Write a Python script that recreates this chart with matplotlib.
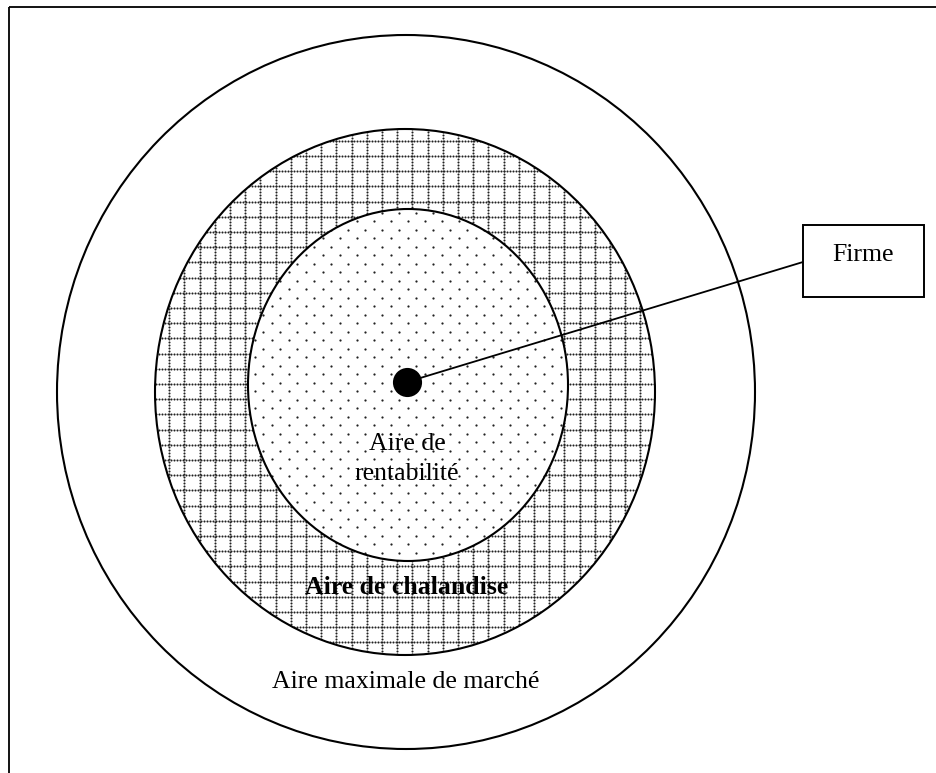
import numpy as np
import matplotlib
matplotlib.use("Agg")
import matplotlib.pyplot as plt
from matplotlib.patches import Ellipse, Rectangle

W, H = 937, 773

# Zones (outer -> inner): label, centre, half-width, half-height (pixel units)
zone_labels = ["Aire maximale de marché", "Aire de chalandise", "Aire de\nrentabilité"]
zone_cx = [406, 405, 408]
zone_cy = [392, 392, 385]
zone_rx = [349, 250, 160]
zone_ry = [357, 263, 176]
label_xy = [(406, 682), (407, 588), (407, 459)]
label_bold = [False, True, False]

firm_label = "Firme"
firm_pos = (407, 382)
box_xy = (803, 225)
box_wh = (121, 72)

plt.rcParams['font.family'] = ['Liberation Serif', 'DejaVu Serif']

fig = plt.figure(figsize=(W / 100, H / 100), dpi=100)
ax = fig.add_axes([0, 0, 1, 1])
ax.set_xlim(0, W)
ax.set_ylim(H, 0)
ax.axis('off')

# frame (left and top edges visible)
ax.plot([9.5, 9.5], [H, 6.5], color='black', lw=1.3, solid_capstyle='butt', zorder=1)
ax.plot([9.5, W], [6.5, 6.5], color='black', lw=1.3, solid_capstyle='butt', zorder=1)

# middle zone: dotted grid pattern, clipped to the middle ellipse
mid = Ellipse((zone_cx[1], zone_cy[1]), 2 * zone_rx[1], 2 * zone_ry[1],
              facecolor='white', edgecolor='none', zorder=1)
ax.add_patch(mid)
step = 15.2
dot = 3.0
gx = np.arange(0, W, step) + 2
gy = np.arange(0, H, step) + 4
pts = []
for x in gx:
    yy = np.arange(0, H, dot)
    pts.append(np.column_stack([np.full_like(yy, x), yy]))
for y in gy:
    xx = np.arange(0, W, dot)
    pts.append(np.column_stack([xx, np.full_like(xx, y)]))
pts = np.vstack(pts)
sc = ax.scatter(pts[:, 0], pts[:, 1], s=2.2, color='#222222', linewidths=0, zorder=2)
sc.set_clip_path(mid)

# inner zone: white with sparse dots
inner = Ellipse((zone_cx[2], zone_cy[2]), 2 * zone_rx[2], 2 * zone_ry[2],
                facecolor='white', edgecolor='none', zorder=3)
ax.add_patch(inner)
ds = 17
pts2 = []
for i, y in enumerate(np.arange(0, H, ds / 2)):
    xx = np.arange((i % 2) * ds / 2, W, ds)
    pts2.append(np.column_stack([xx, np.full_like(xx, y)]))
pts2 = np.vstack(pts2)
sc2 = ax.scatter(pts2[:, 0], pts2[:, 1], s=2.6, color='#222222', linewidths=0, zorder=4)
sc2.set_clip_path(inner)

# outlines
for cx, cy, rx, ry in zip(zone_cx, zone_cy, zone_rx, zone_ry):
    ax.add_patch(Ellipse((cx, cy), 2 * rx, 2 * ry, facecolor='none',
                         edgecolor='black', lw=1.5, zorder=6))

# labels
for lab, (x, y), b in zip(zone_labels, label_xy, label_bold):
    ax.text(x, y, lab, ha='center', va='center', fontsize=18.5,
            fontweight='bold' if b else 'normal', zorder=8, linespacing=1.45)

# firm: dot, line, box
bx, by = box_xy
bw, bh = box_wh
ax.plot([firm_pos[0], bx], [firm_pos[1], by + 37], color='black', lw=1.3, zorder=7)
ax.scatter([firm_pos[0]], [firm_pos[1]], s=440, color='black', zorder=9, linewidths=0)
ax.add_patch(Rectangle((bx, by), bw, bh, facecolor='white', edgecolor='black', lw=1.4, zorder=9))
ax.text(bx + bw / 2, by + bh / 2 - 6, firm_label, ha='center', va='center',
        fontsize=18.5, zorder=10)

fig.savefig('out.png', dpi=100)
